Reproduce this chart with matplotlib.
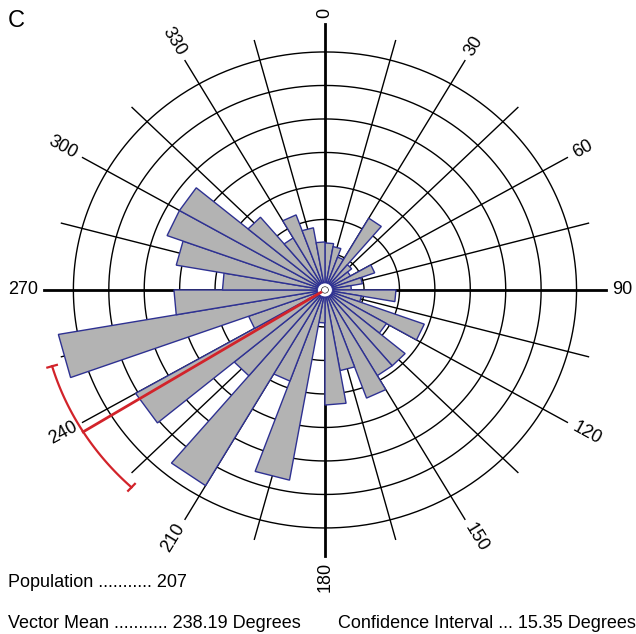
import numpy as np
import matplotlib.pyplot as plt

plt.rcParams['font.family'] = ['Liberation Sans', 'DejaVu Sans']

# rose diagram, 10 degree bins (start angle of each bin)
bin_start = np.arange(0, 360, 10)
# bar lengths, in units of the grid rings
bar_length = [1.30, 1.21, 0.94, 2.37, 0.88, 0.73, 1.39, 0.97, 0.64,
              1.90, 0.94, 2.88, 1.90, 2.85, 2.85, 3.33, 2.34, 3.33,
              0.88, 5.66, 2.79, 6.64, 3.24, 6.07, 2.19, 7.54, 4.16,
              2.79, 4.16, 4.64, 4.64, 2.73, 1.69, 2.28, 1.78, 1.33]
rings = [1, 2, 3, 4, 5, 6, 7]
label_angles = [0, 30, 60, 90, 120, 150, 180, 210, 240, 270, 300, 330]

population = 207
vector_mean = 238.19
conf_interval = 15.35
panel = "C"

gray = '#b3b3b3'
navy = '#2e3192'
red = '#d2232a'
xstretch = 1.057  # the reference plot is a bit wider than tall

fig = plt.figure(figsize=(6.36, 6.34), dpi=100)
ax = fig.add_axes([0.0597, 0.1144, 0.9025, 0.8565], projection='polar')
ax.set_aspect('auto')
ax.set_theta_zero_location('N')
ax.set_theta_direction(-1)
ax.set_rorigin(-0.1045)
ax.set_ylim(0, 8.0)
ax.grid(False)
ax.set_xticks([])
ax.set_yticks([])
ax.spines['polar'].set_visible(False)

# rings
t = np.linspace(0, 2 * np.pi, 721)
for r in rings:
    ax.plot(t, np.full_like(t, r), color='black', lw=1.0, zorder=1)

# spokes every 15 degrees, the labelled ones a bit longer
for a in range(0, 360, 15):
    if a % 90 == 0:
        ax.plot([np.radians(a)] * 2, [0, 7.83], color='black', lw=2.0, zorder=1.5)
    elif a % 30 == 0:
        ax.plot([np.radians(a)] * 2, [0, 7.8], color='black', lw=1.0, zorder=1)
    else:
        ax.plot([np.radians(a)] * 2, [0, 7.6], color='black', lw=1.0, zorder=1)

# bars with straight outer edge
for a, L in zip(bin_start, bar_length):
    th = np.radians([a, a, a + 10, a + 10])
    ax.fill(th, [0, L, L, 0], facecolor=gray, edgecolor=navy, lw=1.0,
            joinstyle='miter', zorder=2)

# white hole in the middle
ax.fill(t, np.full_like(t, 0.1045), facecolor='white', edgecolor=navy,
        lw=0.6, zorder=3)

# mean vector and confidence arc
rm = 7.93
ax.plot([np.radians(vector_mean)] * 2, [0, rm], color=red, lw=2.0, zorder=4)
arc = np.radians(np.linspace(vector_mean - conf_interval,
                             vector_mean + conf_interval, 100))
ax.plot(arc, np.full_like(arc, rm), color=red, lw=1.6, zorder=4, clip_on=False)
for e in (vector_mean - conf_interval, vector_mean + conf_interval):
    ax.plot([np.radians(e)] * 2, [rm - 0.14, rm + 0.14], color=red, lw=1.6,
            zorder=4, clip_on=False)

# angle labels
for a in label_angles:
    rot = np.degrees(np.arctan2(np.cos(np.radians(a)),
                                np.sin(np.radians(a)) * xstretch))
    ha = 'left'
    if rot <= -90 or rot > 90:
        rot = rot + 180 if rot <= -90 else rot - 180
        ha = 'right'
    rl = 7.83 + 0.17
    ax.text(np.radians(a), rl, str(a), rotation=rot, rotation_mode='anchor',
            ha=ha, va='center', fontsize=13, clip_on=False)

fig.text(0.0126, 0.967, panel, fontsize=17, ha='left', va='center')
fig.text(0.0126, 0.082, "Population ........... %d" % population,
         fontsize=13, ha='left', va='center')
fig.text(0.0126, 0.0158, "Vector Mean ........... %.2f Degrees" % vector_mean,
         fontsize=13, ha='left', va='center')
fig.text(0.531, 0.0158, "Confidence Interval ... %.2f Degrees" % conf_interval,
         fontsize=13, ha='left', va='center')

fig.savefig('out.png', dpi=100)
